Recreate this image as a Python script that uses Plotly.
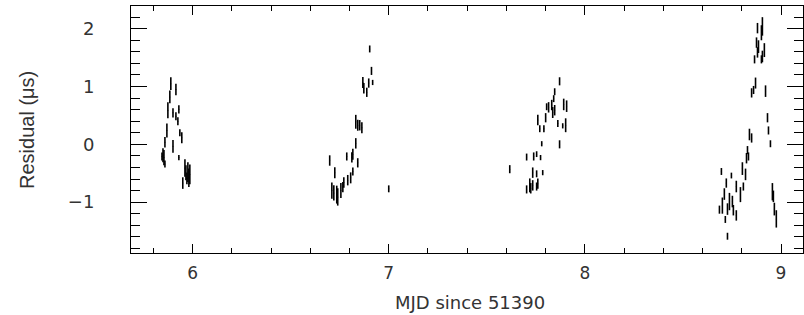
import plotly.graph_objects as go

# Cluster data: MJD offset (days since 51390), residual (us), 1-sigma error (us)
mjd_1 = [5.889, 5.915, 5.884, 5.874, 5.900, 5.915, 5.930, 5.925, 5.935, 5.945, 5.869, 5.859, 5.900,
         5.849, 5.854, 5.844, 5.859, 5.930, 5.961, 5.966, 5.976, 5.981, 5.986, 5.950, 5.971]
res_1 = [1.05, 0.95, 0.82, 0.59, 0.545, 0.485, 0.605, 0.40, 0.20, 0.115, 0.24, 0.035, -0.035,
         -0.19, -0.23, -0.21, -0.34, -0.23, -0.41, -0.49, -0.48, -0.58, -0.52, -0.67, -0.59]
err_1 = [0.11, 0.10, 0.11, 0.14, 0.08, 0.07, 0.07, 0.07, 0.06, 0.095, 0.12, 0.09, 0.11,
         0.12, 0.13, 0.07, 0.06, 0.045, 0.15, 0.13, 0.17, 0.16, 0.17, 0.10, 0.10]

mjd_2 = [6.903, 6.912, 6.918, 6.898, 6.868, 6.873, 6.888, 6.832, 6.842, 6.852, 6.863, 6.832, 6.817,
         6.812, 6.786, 6.842, 6.699, 6.725, 6.817, 6.806, 6.791, 6.771, 6.710, 6.720, 6.735, 6.740,
         6.756, 6.766, 7.000]
res_2 = [1.65, 1.27, 1.07, 1.06, 1.07, 0.97, 0.90, 0.39, 0.33, 0.33, 0.285, 0.017, -0.17,
         -0.225, -0.21, -0.32, -0.28, -0.49, -0.47, -0.58, -0.62, -0.66, -0.80, -0.84, -0.87, -0.91,
         -0.80, -0.74, -0.77]
err_2 = [0.06, 0.07, 0.045, 0.08, 0.095, 0.09, 0.08, 0.12, 0.095, 0.09, 0.095, 0.09, 0.095,
         0.09, 0.07, 0.08, 0.09, 0.095, 0.07, 0.095, 0.09, 0.09, 0.14, 0.13, 0.155, 0.15,
         0.13, 0.09, 0.06]

mjd_3 = [7.871, 7.846, 7.841, 7.892, 7.907, 7.815, 7.831, 7.805, 7.836, 7.846, 7.800, 7.760, 7.862,
         7.902, 7.887, 7.770, 7.791, 7.780, 7.871, 7.703, 7.739, 7.754, 7.774, 7.617, 7.734, 7.754,
         7.785, 7.719, 7.734, 7.754, 7.760, 7.703, 7.724]
res_3 = [1.09, 0.91, 0.79, 0.69, 0.66, 0.64, 0.68, 0.65, 0.55, 0.59, 0.46, 0.42, 0.36,
         0.33, 0.32, 0.27, 0.27, 0.01, 0.0, -0.22, -0.21, -0.17, -0.23, -0.43, -0.49, -0.51,
         -0.49, -0.71, -0.71, -0.73, -0.68, -0.78, -0.76]
err_3 = [0.07, 0.06, 0.06, 0.10, 0.10, 0.09, 0.09, 0.06, 0.095, 0.09, 0.08, 0.09, 0.06,
         0.12, 0.045, 0.06, 0.06, 0.045, 0.07, 0.06, 0.07, 0.05, 0.045, 0.07, 0.09, 0.06,
         0.045, 0.12, 0.09, 0.07, 0.09, 0.07, 0.09]

mjd_4 = [8.905, 8.900, 8.880, 8.875, 8.885, 8.880, 8.915, 8.905, 8.865, 8.900, 8.870, 8.860, 8.850,
         8.921, 8.931, 8.936, 8.946, 8.839, 8.850, 8.829, 8.834, 8.824, 8.803, 8.819, 8.696, 8.747,
         8.721, 8.772, 8.793, 8.808, 8.711, 8.737, 8.752, 8.701, 8.686, 8.727, 8.757, 8.772, 8.716,
         8.727, 8.956, 8.961, 8.966, 8.976]
res_4 = [2.04, 1.93, 2.01, 1.76, 1.69, 1.59, 1.63, 1.52, 1.47, 1.47, 1.06, 0.94, 0.89,
         0.92, 0.46, 0.24, 0.01, 0.17, 0.11, -0.10, -0.21, -0.24, -0.42, -0.52, -0.47, -0.54,
         -0.67, -0.73, -0.87, -0.73, -0.86, -0.99, -0.99, -1.06, -1.13, -1.12, -1.14, -1.23, -1.30,
         -1.59, -0.82, -0.90, -1.12, -1.29]
err_4 = [0.16, 0.13, 0.09, 0.09, 0.11, 0.09, 0.12, 0.10, 0.07, 0.07, 0.095, 0.07, 0.08,
         0.10, 0.08, 0.07, 0.06, 0.10, 0.08, 0.07, 0.07, 0.09, 0.11, 0.10, 0.06, 0.05,
         0.08, 0.10, 0.13, 0.07, 0.10, 0.15, 0.10, 0.14, 0.07, 0.10, 0.09, 0.09, 0.06,
         0.06, 0.15, 0.10, 0.11, 0.15]

x_ticks = [6, 7, 8, 9]
x_tick_labels = ["6", "7", "8", "9"]
y_ticks = [-1, 0, 1, 2]
y_tick_labels = ["\u22121", "0", "1", "2"]
x_title = "MJD since 51390"
y_title = "Residual (\u03bcs)"

mjd = mjd_1 + mjd_2 + mjd_3 + mjd_4
res = res_1 + res_2 + res_3 + res_4
err = err_1 + err_2 + err_3 + err_4

X_RANGE = [5.686, 9.112]
Y_RANGE = [-1.88, 2.393]

fig = go.Figure()
fig.add_trace(go.Scatter(
    x=mjd, y=res, mode="markers",
    marker=dict(size=1, color="black"),
    error_y=dict(type="data", array=err, visible=True, color="black", thickness=1.6, width=0),
    showlegend=False, hoverinfo="x+y",
))
# invisible trace to activate the mirrored top/right axes
fig.add_trace(go.Scatter(x=[X_RANGE[0]], y=[Y_RANGE[0]], xaxis="x2", yaxis="y2",
                         mode="markers", marker=dict(size=0, opacity=0),
                         showlegend=False, hoverinfo="skip"))

txt = "#333333"
common_x = dict(
    range=X_RANGE, tickmode="array", tickvals=x_ticks,
    ticks="inside", ticklen=9, tickwidth=1, tickcolor="black",
    minor=dict(dtick=0.2, tick0=0, ticks="inside", ticklen=5, tickcolor="black", showgrid=False),
    showline=True, linecolor="black", linewidth=1,
    showgrid=False, zeroline=False, automargin=False,
)
common_y = dict(
    range=Y_RANGE, tickmode="array", tickvals=y_ticks,
    ticks="inside", ticklen=16, tickwidth=1, tickcolor="black",
    minor=dict(dtick=0.2, tick0=0, ticks="inside", ticklen=9, tickcolor="black", showgrid=False),
    showline=True, linecolor="black", linewidth=1,
    showgrid=False, zeroline=False, automargin=False,
)

fig.update_layout(
    width=804, height=315,
    margin=dict(l=131, r=1, t=6, b=62, autoexpand=False),
    paper_bgcolor="white", plot_bgcolor="white",
    font=dict(family="Liberation Sans", color=txt),
    xaxis=dict(**common_x, ticktext=x_tick_labels,
               tickfont=dict(size=17, color=txt, family="DejaVu Sans"),
               ticklabelstandoff=5),
    yaxis=dict(**common_y, ticktext=y_tick_labels,
               tickfont=dict(size=18, color=txt, family="DejaVu Sans"),
               ticklabelstandoff=32),
    xaxis2=dict(**common_x, overlaying="x", side="top", anchor="y", showticklabels=False),
    yaxis2=dict(**common_y, overlaying="y", side="right", anchor="x", showticklabels=False),
    annotations=[
        dict(text=x_title, xref="paper", yref="paper", x=0.5045, y=-0.2024,
             xanchor="center", yanchor="middle", showarrow=False,
             font=dict(size=18, color=txt, family="DejaVu Sans")),
        dict(text=y_title, xref="paper", yref="paper", x=-0.1548, y=0.498,
             xanchor="center", yanchor="middle", showarrow=False, textangle=-90,
             font=dict(size=20, color=txt, family="Liberation Sans")),
    ],
)

fig.write_html(
    "out.html",
    config={"displayModeBar": False},
    post_script="document.body.style.margin='0';document.body.style.padding='0';"
                "document.documentElement.style.overflow='hidden';",
)
